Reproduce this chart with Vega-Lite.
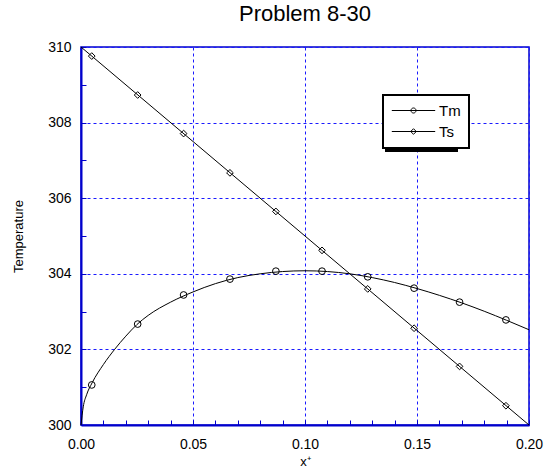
{
  "$schema": "https://vega.github.io/schema/vega-lite/v6.json",
  "width": 448,
  "height": 378,
  "autosize": {"type": "none"},
  "padding": {"left": 81, "top": 47, "right": 17, "bottom": 45},
  "background": "white",
  "title": {"text": "Problem 8-30", "fontSize": 22, "font": "Liberation Sans", "fontWeight": "normal", "color": "black", "offset": 14, "anchor": "middle"},
  "config": {
    "font": "Liberation Sans",
    "view": {"stroke": "#0000cc", "strokeWidth": 1.5},
    "legend": {"strokeWidth": 2},
    "axis": {
      "domainColor": "#0000cc",
      "domainWidth": 2,
      "ticks": true,
      "tickColor": "#0000cc",
      "tickWidth": 1,
      "gridColor": "#1a1aff",
      "gridDash": [3, 3],
      "gridWidth": 1,
      "labelFont": "Liberation Sans",
      "labelFontSize": 14,
      "labelColor": "black",
      "titleFont": "Liberation Sans",
      "titleFontSize": 13,
      "titleFontWeight": "normal",
      "titleColor": "black",
      "labelOverlap": false,
      "labelFlush": false
    }
  },
  "datasets": {
    "curve": [
      {"x": 0.0, "T": 300.0, "series": "Tm"},
      {"x": 0.001, "T": 300.48, "series": "Tm"},
      {"x": 0.0025, "T": 300.8, "series": "Tm"},
      {"x": 0.005, "T": 301.12, "series": "Tm"},
      {"x": 0.01, "T": 301.6, "series": "Tm"},
      {"x": 0.015, "T": 302.0, "series": "Tm"},
      {"x": 0.02, "T": 302.35, "series": "Tm"},
      {"x": 0.025, "T": 302.66, "series": "Tm"},
      {"x": 0.03, "T": 302.9, "series": "Tm"},
      {"x": 0.04, "T": 303.25, "series": "Tm"},
      {"x": 0.05, "T": 303.52, "series": "Tm"},
      {"x": 0.06, "T": 303.74, "series": "Tm"},
      {"x": 0.07, "T": 303.9, "series": "Tm"},
      {"x": 0.08, "T": 304.0, "series": "Tm"},
      {"x": 0.09, "T": 304.06, "series": "Tm"},
      {"x": 0.1, "T": 304.08, "series": "Tm"},
      {"x": 0.11, "T": 304.06, "series": "Tm"},
      {"x": 0.12, "T": 304.0, "series": "Tm"},
      {"x": 0.13, "T": 303.9, "series": "Tm"},
      {"x": 0.14, "T": 303.77, "series": "Tm"},
      {"x": 0.15, "T": 303.61, "series": "Tm"},
      {"x": 0.16, "T": 303.43, "series": "Tm"},
      {"x": 0.17, "T": 303.23, "series": "Tm"},
      {"x": 0.18, "T": 303.01, "series": "Tm"},
      {"x": 0.19, "T": 302.77, "series": "Tm"},
      {"x": 0.2, "T": 302.52, "series": "Tm"},
      {"x": 0.0, "T": 310.0, "series": "Ts"},
      {"x": 0.2, "T": 300.0, "series": "Ts"}
    ],
    "markers": [
      {"x": 0.0048, "T": 301.06, "series": "Tm"},
      {"x": 0.0253, "T": 302.67, "series": "Tm"},
      {"x": 0.0458, "T": 303.44, "series": "Tm"},
      {"x": 0.0665, "T": 303.86, "series": "Tm"},
      {"x": 0.087, "T": 304.07, "series": "Tm"},
      {"x": 0.1076, "T": 304.07, "series": "Tm"},
      {"x": 0.128, "T": 303.92, "series": "Tm"},
      {"x": 0.1487, "T": 303.62, "series": "Tm"},
      {"x": 0.169, "T": 303.25, "series": "Tm"},
      {"x": 0.1897, "T": 302.78, "series": "Tm"},
      {"x": 0.0048, "T": 309.76, "series": "Ts"},
      {"x": 0.0253, "T": 308.73, "series": "Ts"},
      {"x": 0.0458, "T": 307.71, "series": "Ts"},
      {"x": 0.0665, "T": 306.67, "series": "Ts"},
      {"x": 0.087, "T": 305.65, "series": "Ts"},
      {"x": 0.1076, "T": 304.62, "series": "Ts"},
      {"x": 0.128, "T": 303.6, "series": "Ts"},
      {"x": 0.1487, "T": 302.56, "series": "Ts"},
      {"x": 0.169, "T": 301.55, "series": "Ts"},
      {"x": 0.1897, "T": 300.51, "series": "Ts"}
    ]
  },
  "encoding": {
    "x": {
      "field": "x", "type": "quantitative", "title": "x⁺",
      "scale": {"domain": [0, 0.2], "nice": false, "zero": false},
      "axis": {
        "values": [0, 0.01, 0.02, 0.03, 0.04, 0.05, 0.06, 0.07, 0.08, 0.09, 0.1, 0.11, 0.12, 0.13, 0.14, 0.15, 0.16, 0.17, 0.18, 0.19, 0.2],
        "format": ".2f",
        "labelExpr": "abs(datum.value*20 - round(datum.value*20)) < 0.001 ? datum.label : ''",
        "gridOpacity": {"condition": {"test": "abs(datum.value*20 - round(datum.value*20)) < 0.001", "value": 1}, "value": 0},
        "tickSize": -5,
        "labelPadding": 17,
        "titlePadding": 4
      }
    },
    "y": {
      "field": "T", "type": "quantitative", "title": "Temperature",
      "scale": {"domain": [300, 310], "nice": false, "zero": false},
      "axis": {
        "values": [300, 300.5, 301, 301.5, 302, 302.5, 303, 303.5, 304, 304.5, 305, 305.5, 306, 306.5, 307, 307.5, 308, 308.5, 309, 309.5, 310],
        "format": "d",
        "labelExpr": "datum.value % 2 === 0 ? datum.label : ''",
        "gridOpacity": {"condition": {"test": "datum.value % 2 === 0", "value": 1}, "value": 0},
        "tickSize": -5,
        "labelPadding": 15,
        "titlePadding": 22
      }
    }
  },
  "resolve": {"scale": {"shape": "independent"}},
  "layer": [
    {
      "data": {"name": "curve"},
      "mark": {"type": "line", "color": "black", "strokeWidth": 1, "interpolate": "monotone"},
      "encoding": {
        "detail": {"field": "series", "type": "nominal"}
      }
    },
    {
      "data": {"name": "markers"},
      "mark": {"type": "point", "filled": false, "color": "black", "size": 45, "strokeWidth": 1, "opacity": 1},
      "encoding": {
        "shape": {
          "field": "series", "type": "nominal",
          "scale": {"domain": ["Tm", "Ts"], "range": ["circle", "diamond"]},
          "legend": null
        }
      }
    },
    {
      "data": {"name": "markers"},
      "transform": [{"filter": "false"}],
      "mark": {"type": "point", "filled": false, "color": "black", "strokeWidth": 1, "opacity": 1},
      "encoding": {
        "shape": {
          "field": "series", "type": "nominal",
          "scale": {"domain": ["Tm", "Ts"], "range": ["M-3.1,0H3.1M0.36,0A0.36,0.36 0 1,1 -0.36,0A0.36,0.36 0 1,1 0.36,0Z", "M-3.1,0H3.1M0,-0.4L0.4,0L0,0.4L-0.4,0Z"]},
          "legend": {
            "orient": "none",
            "legendX": 305,
            "legendY": 51,
            "zindex": 0,
            "title": null,
            "fillColor": "black",
            "strokeColor": "black",
            "padding": 8,
            "labelFontSize": 15,
            "labelFont": "Liberation Sans",
            "labelColor": "black",
            "labelExpr": "'\u2003\u2002'",
            "symbolSize": 196,
            "symbolStrokeColor": "black",
            "symbolFillColor": "transparent",
            "symbolStrokeWidth": 1,
            "symbolOpacity": 1,
            "symbolOffset": 15,
            "labelOffset": 25,
            "rowPadding": 5
          }
        }
      }
    },
    {
      "data": {"name": "markers"},
      "transform": [{"filter": "false"}],
      "mark": {"type": "point", "filled": false, "color": "black", "strokeWidth": 1, "opacity": 1},
      "encoding": {
        "shape": {
          "field": "series", "type": "nominal",
          "scale": {"domain": ["Tm", "Ts"], "range": ["M-3.1,0H3.1M0.36,0A0.36,0.36 0 1,1 -0.36,0A0.36,0.36 0 1,1 0.36,0Z", "M-3.1,0H3.1M0,-0.4L0.4,0L0,0.4L-0.4,0Z"]},
          "legend": {
            "orient": "none",
            "legendX": 302,
            "legendY": 48,
            "zindex": 1,
            "title": null,
            "fillColor": "white",
            "strokeColor": "black",
            "padding": 8,
            "labelFontSize": 15,
            "labelFont": "Liberation Sans",
            "labelColor": "black",
            "symbolSize": 196,
            "symbolStrokeColor": "black",
            "symbolFillColor": "transparent",
            "symbolStrokeWidth": 1,
            "symbolOpacity": 1,
            "symbolOffset": 15,
            "labelOffset": 18,
            "rowPadding": 5
          }
        }
      }
    }
  ]
}
